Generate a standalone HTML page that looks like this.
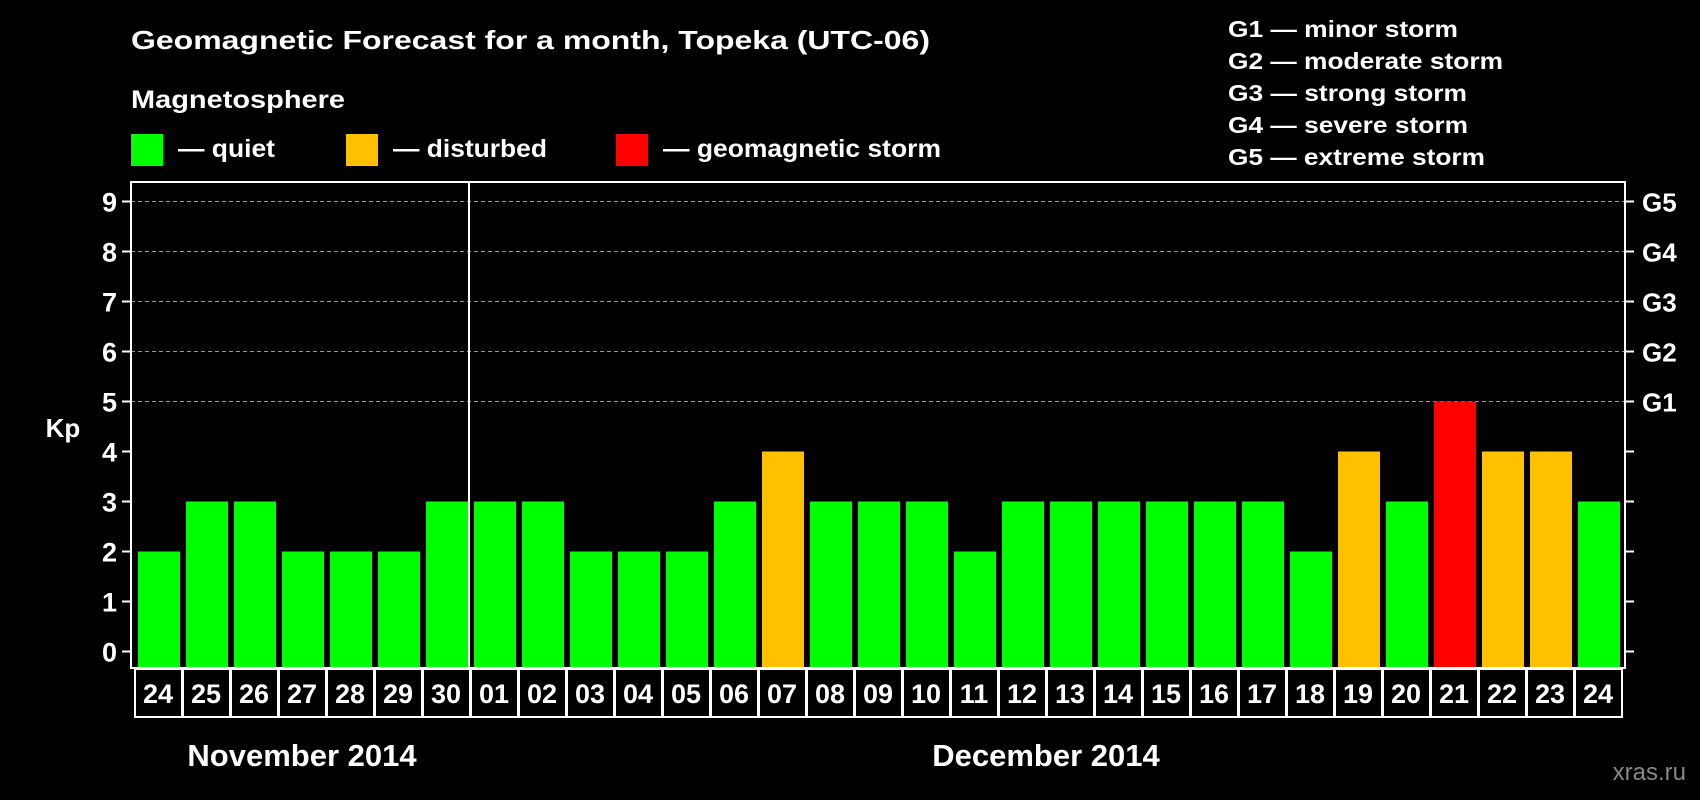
<!DOCTYPE html>
<html><head><meta charset="utf-8"><style>
html,body{margin:0;padding:0;background:#000;}
svg{display:block;font-family:"Liberation Sans",Arial,sans-serif;font-weight:bold;}
</style></head><body>
<svg id="chart" width="1700" height="800" viewBox="0 0 1700 800" xmlns="http://www.w3.org/2000/svg">
<rect width="1700" height="800" fill="#000"/>
<text x="131" y="49" fill="#fff" font-size="26" textLength="799" lengthAdjust="spacingAndGlyphs">Geomagnetic Forecast for a month, Topeka (UTC-06)</text>
<text x="131" y="108" fill="#fff" font-size="25" textLength="214" lengthAdjust="spacingAndGlyphs">Magnetosphere</text>
<g>
<rect x="131" y="134" width="32" height="32" fill="#00ff00"/>
<text x="178" y="157" fill="#fff" font-size="25" textLength="97" lengthAdjust="spacingAndGlyphs">— quiet</text></g>
<g>
<rect x="346" y="134" width="32" height="32" fill="#ffc000"/>
<text x="393" y="157" fill="#fff" font-size="25" textLength="154" lengthAdjust="spacingAndGlyphs">— disturbed</text></g>
<g>
<rect x="616" y="134" width="32" height="32" fill="#ff0000"/>
<text x="663" y="157" fill="#fff" font-size="25" textLength="278" lengthAdjust="spacingAndGlyphs">— geomagnetic storm</text></g>
<g fill="#fff" font-size="23">
<text x="1228" y="37" textLength="230" lengthAdjust="spacingAndGlyphs">G1 — minor storm</text>
<text x="1228" y="69" textLength="275" lengthAdjust="spacingAndGlyphs">G2 — moderate storm</text>
<text x="1228" y="101" textLength="239" lengthAdjust="spacingAndGlyphs">G3 — strong storm</text>
<text x="1228" y="133" textLength="240" lengthAdjust="spacingAndGlyphs">G4 — severe storm</text>
<text x="1228" y="165" textLength="257" lengthAdjust="spacingAndGlyphs">G5 — extreme storm</text>
</g>
<text x="63" y="437" fill="#fff" font-size="26" text-anchor="middle">Kp</text>
<g id="grid"></g>
<g id="bars"></g>
<g id="axes"></g>
<g id="dates"></g>
<text x="302" y="766" fill="#fff" font-size="31" text-anchor="middle">November 2014</text>
<text x="1046" y="766" fill="#fff" font-size="31" text-anchor="middle">December 2014</text>
<text x="1686" y="780" fill="#888" font-size="24" font-weight="normal" text-anchor="end">xras.ru</text>
</svg>
<script>
const days = ["24","25","26","27","28","29","30","01","02","03","04","05","06","07","08","09","10","11","12","13","14","15","16","17","18","19","20","21","22","23","24"];
const kpValues = [2,3,3,2,2,2,3,3,3,2,2,2,3,4,3,3,3,2,3,3,3,3,3,3,2,4,3,5,4,4,3];
const yTicks = [0,1,2,3,4,5,6,7,8,9];
const gLabels = ["","","","","","G1","G2","G3","G4","G5"];
const monthBreakIndex = 7;

const NS="http://www.w3.org/2000/svg";
const pLeft=131,pRight=1625,pTop=182,pBottom=668;
const slot=48, firstSlot=134;
function yScale(v){return 651.5-50*v;}
function xSlot(i){return firstSlot+slot*i;}
function mk(tag,attrs,parent){const e=document.createElementNS(NS,tag);for(const k in attrs)e.setAttribute(k,attrs[k]);parent.appendChild(e);return e;}
function color(v){return v>=5?"#ff0000":(v>=4?"#ffc000":"#00ff00");}

const grid=document.getElementById('grid'),bars=document.getElementById('bars'),axes=document.getElementById('axes'),dates=document.getElementById('dates');
yTicks.forEach((t,i)=>{
  const y=yScale(t);
  if(t>=5){
    const g=mk('line',{x1:pLeft,x2:pRight,y1:y,y2:y,stroke:'#999','stroke-width':1,'stroke-dasharray':'4,3'},grid);
    
    
  }
  const tl=mk('line',{x1:pLeft-9,x2:pLeft,y1:y,y2:y,stroke:'#fff','stroke-width':2},axes);
  
  
  const tr=mk('line',{x1:pRight,x2:pRight+9,y1:y,y2:y,stroke:'#fff','stroke-width':2},axes);
  
  
  const lab=mk('text',{x:117,y:y+10,fill:'#fff','font-size':27,'text-anchor':'end'},axes);
  lab.textContent=t;
  
  
  if(gLabels[i]){
    const gl=mk('text',{x:1642,y:y+10,fill:'#fff','font-size':26},axes);
    gl.textContent=gLabels[i];
    
    
  }
});
kpValues.forEach((v,i)=>{
  const x=xSlot(i)+4, y=yScale(v);
  const r=mk('rect',{x:x,y:y,width:42,height:pBottom-y,fill:color(v)},bars);
  
  
});
const frame=mk('rect',{x:pLeft,y:pTop,width:pRight-pLeft,height:pBottom-pTop,fill:'none',stroke:'#fff','stroke-width':2},axes);


const mx=xSlot(monthBreakIndex)-1;
const ml=mk('line',{x1:mx,x2:mx,y1:pTop,y2:pBottom,stroke:'#fff','stroke-width':2},axes);


days.forEach((d,i)=>{
  const x=xSlot(i);
  const b=mk('rect',{x:x+1,y:669,width:slot-1,height:48,fill:'#000',stroke:'#fff','stroke-width':2},dates);
  
  
  const t=mk('text',{x:x+slot/2,y:703,fill:'#fff','font-size':27,'text-anchor':'middle'},dates);
  t.textContent=d;
  
  
});
</script>
</body></html>
